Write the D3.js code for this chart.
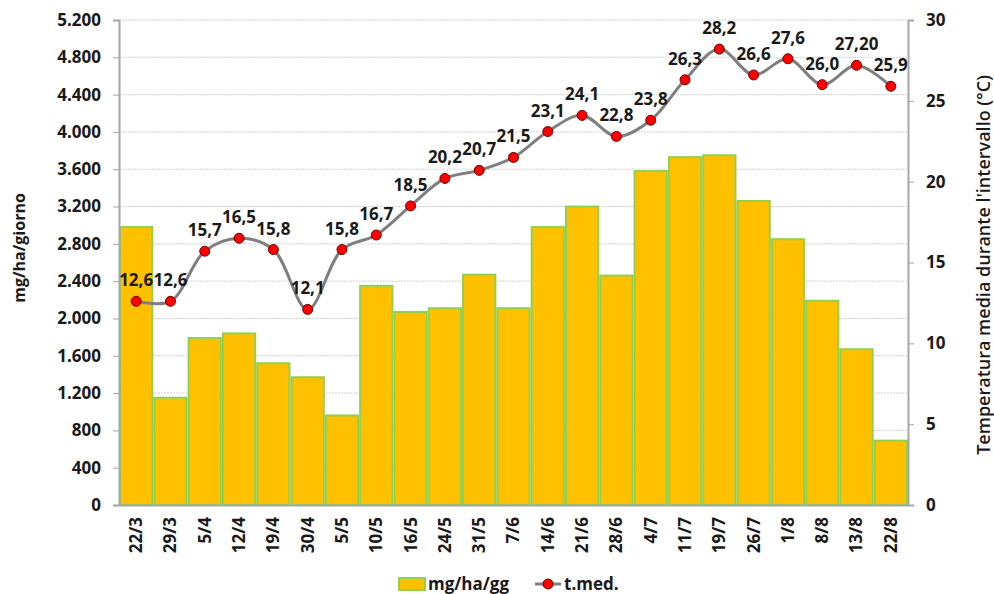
<!DOCTYPE html>
<html>
<head>
<meta charset="utf-8">
<script src="https://cdn.jsdelivr.net/npm/d3@7"></script>
<style>
  body { margin: 0; background: #fff; }
  svg { display: block; font-family: "Open Sans", "Noto Sans", sans-serif; }
</style>
</head>
<body>
<div id="chart"></div>
<script>
const dates = ["22/3", "29/3", "5/4", "12/4", "19/4", "30/4", "5/5", "10/5", "16/5", "24/5", "31/5", "7/6",
  "14/6", "21/6", "28/6", "4/7", "11/7", "19/7", "26/7", "1/8", "8/8", "13/8", "22/8"];
const mgValues = [2980, 1150, 1790, 1840, 1520, 1370, 960, 2350, 2070, 2110, 2470, 2110,
  2980, 3200, 2460, 3580, 3730, 3750, 3260, 2850, 2190, 1670, 690];
const tempValues = [12.6, 12.6, 15.7, 16.5, 15.8, 12.1, 15.8, 16.7, 18.5, 20.2, 20.7, 21.5,
  23.1, 24.1, 22.8, 23.8, 26.3, 28.2, 26.6, 27.6, 26.0, 27.2, 25.9];
const tempLabels = ["12,6", "12,6", "15,7", "16,5", "15,8", "12,1", "15,8", "16,7", "18,5", "20,2", "20,7", "21,5",
  "23,1", "24,1", "22,8", "23,8", "26,3", "28,2", "26,6", "27,6", "26,0", "27,20", "25,9"];
const leftTicks = d3.range(0, 5201, 400);
const rightTicks = [0, 5, 10, 15, 20, 25, 30];

const width = 994, height = 594;
const margin = { top: 20, right: 86, bottom: 89, left: 119 };
const textColor = "#1a1a1a";

const svg = d3.select("#chart").append("svg").attr("width", width).attr("height", height);

const x = d3.scaleBand().domain(dates).range([margin.left, width - margin.right]).padding(0);
const yL = d3.scaleLinear().domain([0, 5200]).range([height - margin.bottom, margin.top]);
const yR = d3.scaleLinear().domain([0, 30]).range([height - margin.bottom, margin.top]);

const fmt = (v) => v >= 1000 ? d3.format(",")(v).replace(",", ".") : String(v);

// grid
svg.append("g")
  .selectAll("line")
  .data(leftTicks.filter((d) => d > 0))
  .join("line")
  .attr("x1", margin.left).attr("x2", width - margin.right)
  .attr("y1", (d) => yL(d)).attr("y2", (d) => yL(d))
  .attr("stroke", "#d0d0d0").attr("stroke-width", 1).attr("stroke-dasharray", "2,1");

// bars
svg.append("g")
  .selectAll("rect")
  .data(mgValues)
  .join("rect")
  .attr("x", (d, i) => x(dates[i]) + 1)
  .attr("y", (d) => yL(d))
  .attr("width", x.bandwidth() - 2)
  .attr("height", (d) => yL(0) - yL(d))
  .attr("fill", "#ffc000")
  .attr("stroke", "#92d050").attr("stroke-width", 2);

// axes
const axisColor = "#a6a6a6";
const leftAxis = svg.append("g").attr("transform", `translate(${margin.left},0)`)
  .call(d3.axisLeft(yL).tickValues(leftTicks).tickFormat(fmt).tickSize(6).tickPadding(12));
const rightAxis = svg.append("g").attr("transform", `translate(${width - margin.right},0)`)
  .call(d3.axisRight(yR).tickValues(rightTicks).tickSize(6).tickPadding(12));
const bottomAxis = svg.append("g").attr("transform", `translate(0,${height - margin.bottom})`)
  .call(d3.axisBottom(x).tickSize(0).tickPadding(0));

for (const ax of [leftAxis, rightAxis, bottomAxis]) {
  ax.select(".domain").attr("stroke", axisColor).attr("stroke-width", 2);
  ax.selectAll(".tick line").attr("stroke", axisColor);
  ax.selectAll("text").attr("font-size", 17).attr("font-weight", 700).attr("fill", textColor)
    .attr("font-family", "'Open Sans', sans-serif");
}
bottomAxis.selectAll(".tick text")
  .attr("transform", "rotate(-90)")
  .attr("text-anchor", "end")
  .attr("x", -12).attr("y", 0).attr("dy", "0.35em");

// axis titles
svg.append("text")
  .attr("transform", "translate(19,248) rotate(-90)")
  .attr("text-anchor", "middle").attr("dy", "0.35em")
  .attr("font-size", 16).attr("font-weight", 700).attr("fill", textColor)
  .text("mg/ha/giorno");
svg.append("text")
  .attr("transform", "translate(984,265) rotate(-90)")
  .attr("text-anchor", "middle").attr("dy", "0.35em")
  .attr("font-size", 18).attr("font-weight", 600).attr("fill", textColor)
  .text("Temperatura media durante l'intervallo (°C)");

// temperature line
const cx = (i) => x(dates[i]) + x.bandwidth() / 2;
const line = d3.line().x((d, i) => cx(i)).y((d) => yR(d)).curve(d3.curveCatmullRom.alpha(0.5));
svg.append("path").datum(tempValues)
  .attr("d", line).attr("fill", "none")
  .attr("stroke", "#7f7f7f").attr("stroke-width", 3);

svg.append("g").selectAll("circle")
  .data(tempValues).join("circle")
  .attr("cx", (d, i) => cx(i)).attr("cy", (d) => yR(d)).attr("r", 5)
  .attr("fill", "#ff0000").attr("stroke", "#6b0000").attr("stroke-width", 1);

svg.append("g").selectAll("text")
  .data(tempValues).join("text")
  .attr("x", (d, i) => cx(i)).attr("y", (d) => yR(d) - 15)
  .attr("text-anchor", "middle").attr("font-size", 17).attr("font-weight", 700).attr("fill", textColor)
  .text((d, i) => tempLabels[i]);

// legend
const lg = svg.append("g").attr("transform", "translate(399,584)");
lg.append("rect").attr("x", 0).attr("y", -6).attr("width", 26).attr("height", 12)
  .attr("fill", "#ffc000").attr("stroke", "#92d050").attr("stroke-width", 2);
lg.append("text").attr("x", 29).attr("y", 0).attr("dy", "0.35em")
  .attr("font-size", 17).attr("font-weight", 700).attr("fill", textColor).text("mg/ha/gg");
lg.append("line").attr("x1", 136).attr("x2", 162).attr("y1", 0).attr("y2", 0)
  .attr("stroke", "#7f7f7f").attr("stroke-width", 3);
lg.append("circle").attr("cx", 149).attr("cy", 0).attr("r", 5)
  .attr("fill", "#ff0000").attr("stroke", "#6b0000").attr("stroke-width", 1);
lg.append("text").attr("x", 165).attr("y", 0).attr("dy", "0.35em")
  .attr("font-size", 17).attr("font-weight", 700).attr("fill", textColor).text("t.med.");
</script>
</body>
</html>
